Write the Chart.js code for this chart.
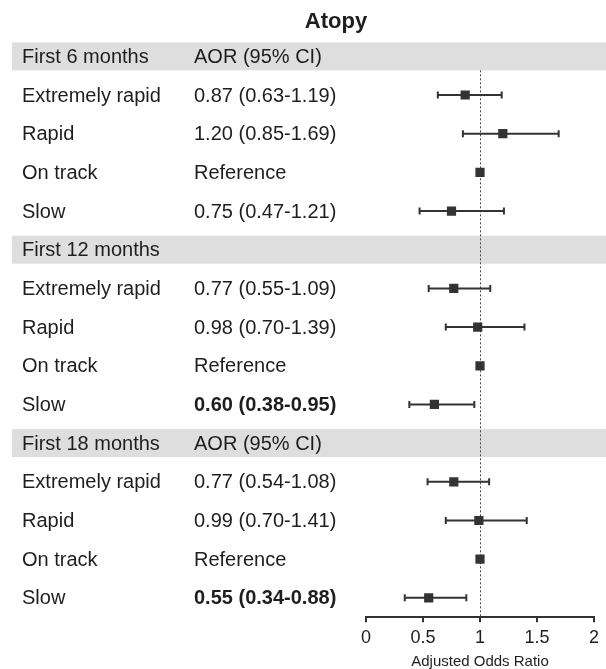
<!DOCTYPE html>
<html>
<head>
<meta charset="utf-8">
<script src="https://cdn.jsdelivr.net/npm/chart.js@4/dist/chart.umd.min.js"></script>
<style>
  html, body { margin: 0; padding: 0; background: #ffffff; }
  #wrap { width: 606px; height: 669px; position: relative; }
</style>
</head>
<body>
<div id="wrap"><canvas id="c" width="606" height="669"></canvas></div>
<script>
// ---- data ----
const chartTitle = 'Atopy';
const periods = ['First 6 months', 'First 12 months', 'First 18 months'];
const periodHeaderRight = ['AOR (95% CI)', '', 'AOR (95% CI)'];
const groups = ['Extremely rapid', 'Rapid', 'On track', 'Slow'];
const referenceText = 'Reference';

const aor6  = [0.87, 1.20, 1.00, 0.75];
const lo6   = [0.63, 0.85, null, 0.47];
const hi6   = [1.19, 1.69, null, 1.21];
const sig6  = [false, false, false, false];

const aor12 = [0.77, 0.98, 1.00, 0.60];
const lo12  = [0.55, 0.70, null, 0.38];
const hi12  = [1.09, 1.39, null, 0.95];
const sig12 = [false, false, false, true];

const aor18 = [0.77, 0.99, 1.00, 0.55];
const lo18  = [0.54, 0.70, null, 0.34];
const hi18  = [1.08, 1.41, null, 0.88];
const sig18 = [false, false, false, true];

const xTickLabels = ['0', '0.5', '1', '1.5', '2'];
const xTitle = 'Adjusted Odds Ratio';
const refValue = 1;

// ---- build rows ----
const sections = [
  { aor: aor6, lo: lo6, hi: hi6, sig: sig6 },
  { aor: aor12, lo: lo12, hi: hi12, sig: sig12 },
  { aor: aor18, lo: lo18, hi: hi18, sig: sig18 }
];
const rowKeys = [];
const rows = [];
sections.forEach((s, si) => {
  const hk = 'H' + si;
  rowKeys.push(hk);
  rows.push({ key: hk, header: true, left: periods[si], right: periodHeaderRight[si] });
  groups.forEach((g, gi) => {
    const k = si + '-' + gi;
    rowKeys.push(k);
    const v = s.aor[gi], lo = s.lo[gi], hi = s.hi[gi];
    const txt = (lo === null) ? referenceText :
      v.toFixed(2) + ' (' + lo.toFixed(2) + '-' + hi.toFixed(2) + ')';
    rows.push({ key: k, header: false, left: g, right: txt, bold: s.sig[gi], x: v, lo: lo, hi: hi });
  });
});
const points = rows.filter(r => !r.header).map(r => ({ x: r.x, y: r.key, lo: r.lo, hi: r.hi }));

const FONT = '"Liberation Sans", Arial, Helvetica, sans-serif';
const INK = '#1e1e1e';
const MARK = '#333333';

const forestPlugin = {
  id: 'forest',
  beforeDraw(chart) {
    const { ctx } = chart;
    const ys = chart.scales.y;
    ctx.save();
    ctx.fillStyle = '#ffffff';
    ctx.fillRect(0, 0, chart.width, chart.height);
    ctx.fillStyle = '#dedede';
    rows.forEach(r => {
      if (!r.header) return;
      const py = ys.getPixelForValue(rowKeys.indexOf(r.key));
      ctx.fillRect(12, py - 14, chart.width - 12, 28);
    });
    ctx.restore();
  },
  beforeDatasetsDraw(chart) {
    const { ctx, chartArea } = chart;
    const xs = chart.scales.x, ys = chart.scales.y;
    ctx.save();
    // reference dotted line
    const rx = Math.round(xs.getPixelForValue(refValue)) + 0.5;
    const top = ys.getPixelForValue(0) + 14;
    ctx.strokeStyle = '#444';
    ctx.lineWidth = 1;
    ctx.setLineDash([2, 2]);
    ctx.beginPath();
    ctx.moveTo(rx, top);
    ctx.lineTo(rx, chartArea.bottom);
    ctx.stroke();
    ctx.setLineDash([]);
    // CI whiskers
    ctx.strokeStyle = MARK;
    ctx.lineWidth = 2;
    points.forEach(p => {
      if (p.lo === null) return;
      const py = ys.getPixelForValue(rowKeys.indexOf(p.y));
      const x0 = xs.getPixelForValue(p.lo), x1 = xs.getPixelForValue(p.hi);
      ctx.beginPath();
      ctx.moveTo(x0, py); ctx.lineTo(x1, py);
      ctx.moveTo(x0, py - 3.5); ctx.lineTo(x0, py + 3.5);
      ctx.moveTo(x1, py - 3.5); ctx.lineTo(x1, py + 3.5);
      ctx.stroke();
    });
    ctx.restore();
  },
  afterDraw(chart) {
    const { ctx } = chart;
    const ys = chart.scales.y;
    ctx.save();
    ctx.fillStyle = INK;
    ctx.textBaseline = 'middle';
    ctx.textAlign = 'left';
    rows.forEach((r, i) => {
      const py = ys.getPixelForValue(i) + 1;
      ctx.font = '20px ' + FONT;
      ctx.fillText(r.left, 22, py);
      ctx.font = (r.bold ? 'bold ' : '') + '20px ' + FONT;
      if (r.right) ctx.fillText(r.right, 194, py);
    });
    ctx.font = 'bold 22px ' + FONT;
    ctx.textAlign = 'center';
    ctx.fillText(chartTitle, 336, 22);
    ctx.restore();
  }
};

new Chart(document.getElementById('c'), {
  type: 'scatter',
  data: {
    datasets: [{
      data: points,
      pointStyle: 'rect',
      pointRadius: 6.5,
      pointHoverRadius: 6.5,
      backgroundColor: MARK,
      borderColor: MARK,
      borderWidth: 0,
      showLine: false
    }]
  },
  options: {
    responsive: false,
    animation: false,
    events: [],
    layout: { padding: { left: 366, right: 12, top: 37, bottom: 0 } },
    plugins: { legend: { display: false }, tooltip: { enabled: false }, title: { display: false } },
    scales: {
      x: {
        type: 'linear',
        min: 0, max: 2,
        afterBuildTicks(scale) {
          scale.ticks = xTickLabels.map(t => ({ value: parseFloat(t) }));
        },
        ticks: {
          callback: (v, i) => xTickLabels[i],
          color: INK,
          font: { family: FONT, size: 18, lineHeight: 1.1 },
          padding: 6,
          maxRotation: 0,
          autoSkip: false
        },
        grid: { display: true, drawOnChartArea: false, drawTicks: true, tickLength: 5, color: MARK, lineWidth: 2 },
        border: { display: true, color: MARK, width: 2 },
        title: { display: true, text: xTitle, color: INK, font: { family: FONT, size: 15, lineHeight: 1.0 }, padding: { top: 0, bottom: 0 } }
      },
      y: {
        type: 'category',
        labels: rowKeys,
        offset: true,
        display: false,
        grid: { display: false }
      }
    }
  },
  plugins: [forestPlugin]
});
</script>
</body>
</html>
